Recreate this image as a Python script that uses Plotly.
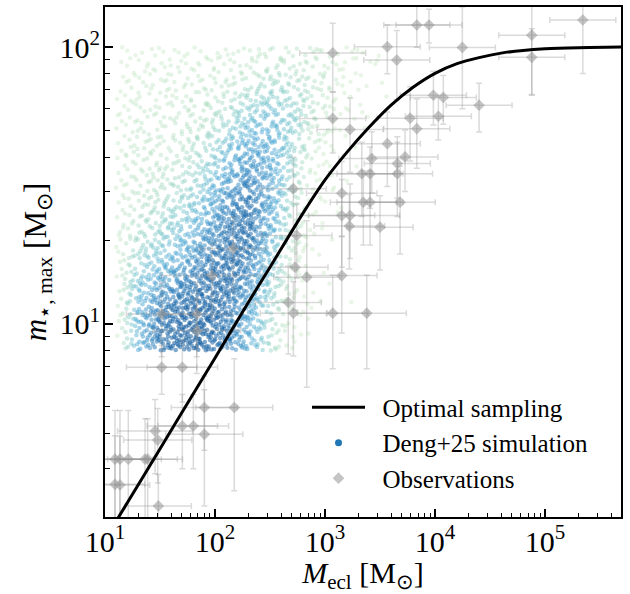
import numpy as np
import plotly.graph_objects as go

# ---------------- data ----------------
# Optimal sampling relation  (M_ecl [Msun], m_max [Msun])
opt_M = [12.5, 20, 50, 100, 200, 316, 631, 1000, 1585, 2512, 3981, 6310,
         1e4, 1.585e4, 2.512e4, 3.981e4, 6.31e4, 1e5, 2e5, 5e5]
opt_m = [1.92, 2.61, 4.77, 7.52, 11.9, 16.0, 25.1, 33.1, 41.7, 51.3, 61.7, 71.6,
         80.4, 87.1, 91.6, 95.1, 97.3, 98.6, 99.5, 100.0]

# Observations: log10 M_ecl, log10 m_max, x half-width (dex), fractional m error
obs_logM = [3.070, 3.566, 3.652, 3.834, 3.945, 4.248, 4.879, 4.879, 5.343, 3.985,
            4.075, 4.400, 4.030, 3.773, 3.834, 3.070, 3.227, 3.566, 3.657, 3.657,
            3.727, 3.425, 3.334, 3.409, 3.348, 3.409, 3.682, 3.152, 3.152, 3.227,
            3.500, 3.152, 2.834, 2.712, 3.221, 2.727, 2.666, 2.712, 3.070, 3.379,
            2.743, 1.515, 1.703, 1.903, 2.175, 1.703, 1.803, 1.455, 1.479, 1.903,
            1.091, 1.136, 1.212, 1.364, 1.388, 1.091, 1.136, 1.485, 1.515, 1.834,
            1.834, 1.973, 2.164]
obs_logm = [1.979, 2.001, 1.953, 2.080, 2.080, 1.999, 2.043, 1.963, 2.098, 1.826,
            1.818, 1.790, 1.750, 1.743, 1.705, 1.742, 1.702, 1.651, 1.579, 1.542,
            1.603, 1.597, 1.542, 1.542, 1.439, 1.439, 1.439, 1.472, 1.391, 1.391,
            1.349, 1.174, 1.168, 1.488, 1.353, 1.204, 1.077, 1.038, 1.038, 1.038,
            1.319, 0.842, 0.842, 0.697, 0.697, 0.630, 0.630, 0.612, 0.579, 0.600,
            0.510, 0.510, 0.510, 0.510, 0.510, 0.419, 0.417, 0.341, 1.035, 1.035,
            0.975, 1.174, 1.272]
obs_dlogM = [0.30, 0.30, 0.30, 0.30, 0.30, 0.30, 0.30, 0.30, 0.30, 0.30,
             0.30, 0.30, 0.30, 0.30, 0.30, 0.30, 0.30, 0.30, 0.30, 0.32,
             0.30, 0.30, 0.30, 0.30, 0.30, 0.30, 0.32, 0.32, 0.30, 0.45,
             0.30, 0.32, 0.30, 0.30, 0.32, 0.30, 0.30, 0.30, 0.32, 0.36,
             0.32, 0.32, 0.32, 0.30, 0.35, 0.32, 0.32, 0.34, 0.31, 0.35,
             0.30, 0.30, 0.30, 0.34, 0.27, 0.27, 0.27, 0.30, 0.32, 0.32,
             0.40, 0.46, 0.30]
obs_mfrac = [0.28, 0.20, 0.28, 0.17, 0.14, 0.40, 0.39, 0.27, 0.36, 0.22,
             0.20, 0.20, 0.18, 0.30, 0.28, 0.25, 0.30, 0.30, 0.25, 0.30,
             0.25, 0.25, 0.30, 0.25, 0.30, 0.30, 0.35, 0.30, 0.35, 0.30,
             0.30, 0.38, 0.60, 0.30, 0.30, 0.30, 0.35, 0.30, 0.37, 0.37,
             0.30, 0.20, 0.25, 0.30, 0.50, 0.30, 0.30, 0.30, 0.30, 0.45,
             0.50, 0.50, 0.50, 0.40, 0.40, 0.50, 0.50, 0.30, 0.30, 0.30,
             0.30, 0.30, 0.30]

# Deng+25 simulation cloud: dots per (0.2 dex M_ecl x 0.1 dex m_max) cell
sim_logM_lo = [1.0, 1.2, 1.4, 1.6, 1.8, 2.0, 2.2, 2.4, 2.6, 2.8, 3.0, 3.2, 3.4, 3.6]
sim_logm_lo = [0.9, 1.0, 1.1, 1.2, 1.3, 1.4, 1.5, 1.6, 1.7, 1.8, 1.9]
sim_density = [
    [8, 32, 45, 48, 48, 44, 34, 20, 8, 2, 0, 0, 0, 0],
    [9, 32, 44, 48, 48, 46, 36, 22, 9, 3, 0, 0, 0, 0],
    [10, 28, 36, 42, 46, 47, 40, 26, 12, 4, 1, 0, 0, 0],
    [10, 22, 28, 34, 42, 46, 45, 30, 14, 5, 1, 0, 0, 0],
    [10, 18, 22, 28, 36, 44, 47, 34, 17, 6, 2, 0, 0, 0],
    [10, 15, 18, 22, 30, 40, 45, 36, 20, 8, 3, 0, 0, 0],
    [10, 14, 15, 18, 24, 34, 40, 36, 22, 10, 4, 1, 0, 0],
    [10, 13, 13, 15, 20, 28, 34, 34, 24, 13, 6, 2, 0, 0],
    [9, 12, 12, 13, 15, 20, 27, 30, 25, 16, 9, 4, 1, 0],
    [8, 11, 11, 12, 13, 15, 18, 21, 20, 16, 11, 6, 2, 0],
    [5, 9, 10, 10, 10, 11, 12, 14, 14, 13, 10, 6, 3, 0],
]
sim_M_min = 12.5     # leftmost simulated cluster mass
sim_M_max = 6300.0   # rightmost simulated cluster mass
sim_m_min = 8.0      # lower cut of the simulated m_max
sim_m_max = 100.0    # upper cut
color_lo, color_hi = 8, 48   # density range spanned by the colour map


# ---------------- dot-density rendering of the grid ----------------
def halton(i, b):
    f, r = 1.0, 0.0
    while i > 0:
        f /= b
        r += f * (i % b)
        i //= b
    return r


dM, dm = 0.2, 0.1
grid = np.array(sim_density, dtype=float)
gmax = grid.max()


def density(lx, ly):
    fx = np.clip((lx - (sim_logM_lo[0] + dM / 2)) / dM, 0, grid.shape[1] - 1)
    fy = np.clip((ly - (sim_logm_lo[0] + dm / 2)) / dm, 0, grid.shape[0] - 1)
    ix = np.minimum(np.floor(fx).astype(int), grid.shape[1] - 2)
    iy = np.minimum(np.floor(fy).astype(int), grid.shape[0] - 2)
    tx, ty = fx - ix, fy - iy
    return (grid[iy, ix] * (1 - tx) * (1 - ty) + grid[iy, ix + 1] * tx * (1 - ty)
            + grid[iy + 1, ix] * (1 - tx) * ty + grid[iy + 1, ix + 1] * tx * ty)


x_lo, x_hi = np.log10(sim_M_min), np.log10(sim_M_max)
y_lo, y_hi = np.log10(sim_m_min), np.log10(sim_m_max)
n_cand = int(gmax * (x_hi - x_lo) / dM * (y_hi - y_lo) / dm)
idx = range(1, n_cand + 1)
cx = x_lo + np.array([halton(i, 2) for i in idx]) * (x_hi - x_lo)
cy = y_lo + np.array([halton(i, 3) for i in idx]) * (y_hi - y_lo)
cu = np.array([halton(i, 5) for i in idx])
cd = density(cx, cy)
keep = cu < cd / gmax
px, py, dens = cx[keep], cy[keep], cd[keep]
order = np.argsort(dens)
px, py, dens = px[order], py[order], dens[order]
t = np.clip((dens - color_lo) / (color_hi - color_lo), 0, 1)

gnbu = [[0.0, '#c6e8c0'], [0.2, '#a3d9bb'], [0.4, '#74c5c9'],
        [0.6, '#4aa8d4'], [0.8, '#2e84c0'], [1.0, '#0e5a9f']]

obs_M = 10 ** np.array(obs_logM)
obs_m = 10 ** np.array(obs_logm)
dlog = np.array(obs_dlogM)
ex_p = obs_M * (10 ** dlog - 1)
ex_m = obs_M * (1 - 10 ** (-dlog))
ey = np.array(obs_mfrac) * obs_m

FONT = "Liberation Serif"
NB = "\u00a0\u00a0"
fig = go.Figure()
fig.add_trace(go.Scatter(
    x=10 ** px, y=10 ** py, mode='markers', showlegend=False, hoverinfo='skip',
    marker=dict(size=4.5, color=t, colorscale=gnbu, cmin=0, cmax=1,
                opacity=0.38 + 0.16 * t, line=dict(width=0))))
fig.add_trace(go.Scatter(
    x=obs_M, y=obs_m, mode='markers', name=NB + 'Observations', legendrank=3,
    marker=dict(symbol='diamond', size=9, color='rgba(150,150,150,0.55)', line=dict(width=0)),
    error_x=dict(type='data', symmetric=False, array=ex_p, arrayminus=ex_m,
                 color='rgba(140,140,140,0.32)', thickness=1.5, width=3),
    error_y=dict(type='data', array=ey, color='rgba(140,140,140,0.32)', thickness=1.5, width=3)))
fig.add_trace(go.Scatter(
    x=[None], y=[None], mode='markers', name=NB + 'Deng+25 simulation', legendrank=2,
    marker=dict(size=7, color='#1f77b4')))
fig.add_trace(go.Scatter(
    x=opt_M, y=opt_m, mode='lines', name=NB + 'Optimal sampling', legendrank=1,
    line=dict(color='black', width=3, shape='spline', smoothing=0.8)))

xmaj = [10, 100, 1e3, 1e4, 1e5]
xminor = [m * 10 ** e for e in range(1, 6) for m in range(2, 10)]
ymaj = [10, 100]
yminor = [m * 10 ** e for e in range(0, 3) for m in range(2, 10)]

axis_common = dict(type='log', showgrid=False, zeroline=False, ticks='inside',
                   ticklen=8, tickwidth=1.5, tickcolor='black', linecolor='black',
                   linewidth=2, mirror=True, automargin=False,
                   tickfont=dict(family=FONT, size=30, color='black'))
fig.update_layout(
    width=630, height=594, margin=dict(l=105, r=9, t=7, b=77),
    paper_bgcolor='white', plot_bgcolor='white',
    font=dict(family=FONT, color='black'),
    xaxis=dict(**axis_common, range=[1.0, 5.69], tickvals=xmaj,
               ticktext=['10<sup>%d</sup>' % i for i in range(1, 6)],
               ticklabelstandoff=-3,
               minor=dict(ticks='inside', ticklen=4.5, tickwidth=1.2, tickcolor='black',
                          tickvals=xminor),
               title=dict(text='<i>M</i><sub>ecl</sub> [M<sub>⊙</sub>]',
                          font=dict(family=FONT, size=30), standoff=8)),
    yaxis=dict(**axis_common, range=[0.301, 2.145], tickvals=ymaj,
               ticktext=['10<sup>1</sup>', '10<sup>2</sup>'],
               ticklabelstandoff=-3,
               minor=dict(ticks='inside', ticklen=4.5, tickwidth=1.2, tickcolor='black',
                          tickvals=yminor),
               title=dict(text='<i>m</i><sub>⋆, max</sub> [M<sub>⊙</sub>]',
                          font=dict(family=FONT, size=31), standoff=4)),
    legend=dict(x=0.3915, y=0.26, xanchor='left', yanchor='top', itemwidth=53,
                bgcolor='rgba(0,0,0,0)', borderwidth=0,
                font=dict(family=FONT, size=25, color='black')),
)
fig.write_html("out.html")
